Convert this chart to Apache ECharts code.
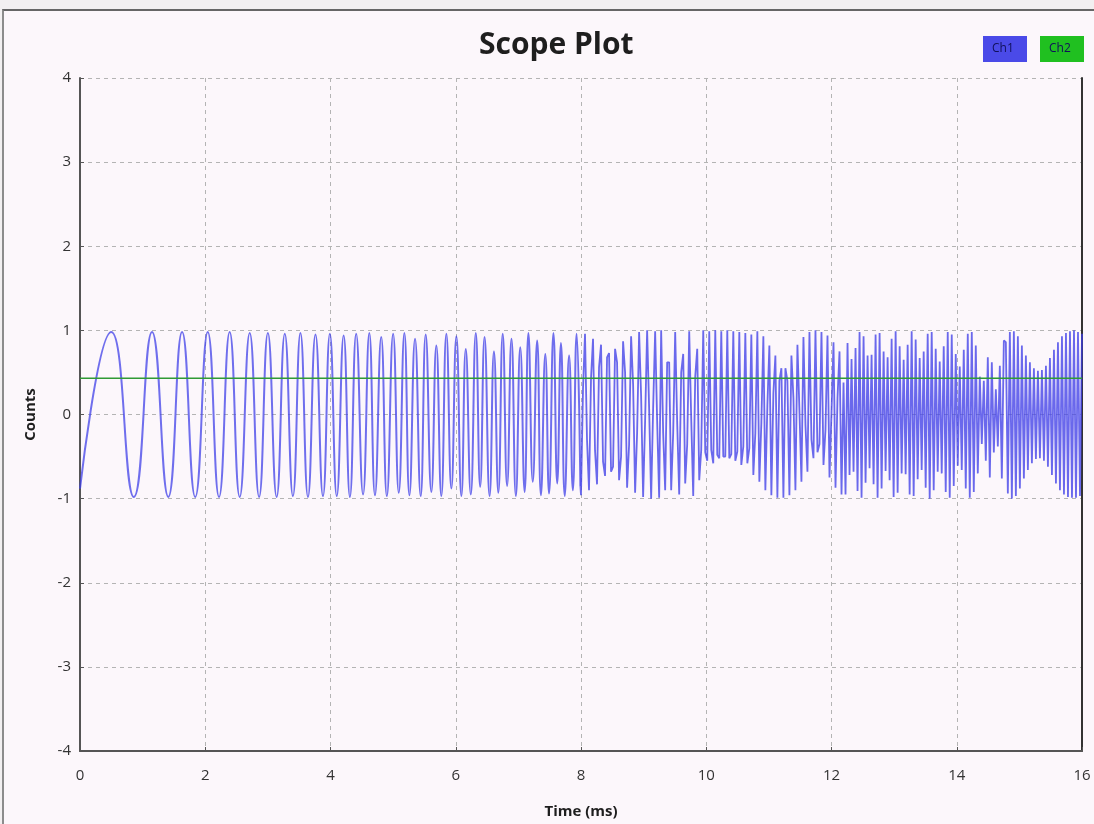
<!DOCTYPE html>
<html>
<head>
<meta charset="utf-8">
<title>Scope Plot</title>
<script src="https://cdn.jsdelivr.net/npm/echarts@6/dist/echarts.min.js"></script>
<style>
    html, body { margin: 0; padding: 0; background: #f2f0f1; }
    .frame {
        position: absolute; left: 2px; top: 9px; width: 1092px; height: 815px;
        border-top: 2px solid #666; border-left: 2px solid #8c8c8c;
        background: #fcf7fb; box-sizing: border-box;
    }
    #chart { position: absolute; left: 0; top: 0; width: 1094px; height: 824px; }
</style>
</head>
<body>
<div class="frame"></div>
<div id="chart"></div>
<script>
// 坐标范围
const xRange = [0, 16];
const yRange = [-4, 4];

// Ch1: 0-8 ms 扫频波峰/波谷 [时间 ms, 值]
const ch1Sweep = [
    [0, -0.88], [0.50, 0.98], [0.86, -0.98], [1.15, 0.98], [1.41, -0.98], [1.63, 0.98],
    [1.84, -0.98], [2.04, 0.98], [2.22, -0.98], [2.39, 0.98], [2.55, -0.98], [2.71, 0.97],
    [2.86, -0.98], [3.00, 0.97], [3.14, -0.98], [3.27, 0.96], [3.40, -0.97], [3.52, 0.97],
    [3.64, -0.98], [3.76, 0.95], [3.88, -0.97], [3.99, 0.96], [4.10, -0.97], [4.21, 0.94],
    [4.31, -0.98], [4.41, 0.96], [4.52, -0.95], [4.62, 0.97], [4.71, -0.96], [4.81, 0.92],
    [4.90, -0.97], [5.00, 0.96], [5.09, -0.93], [5.18, 0.97], [5.26, -0.96], [5.35, 0.90],
    [5.44, -0.97], [5.52, 0.95], [5.61, -0.92], [5.69, 0.82], [5.77, -0.97], [5.85, 0.96],
    [5.93, -0.88], [6.01, 0.93], [6.09, -0.97], [6.16, 0.78], [6.24, -0.95], [6.32, 0.97],
    [6.39, -0.86], [6.46, 0.92], [6.54, -0.97], [6.61, 0.75], [6.68, -0.93], [6.75, 0.96],
    [6.82, -0.85], [6.89, 0.90], [6.96, -0.97], [7.03, 0.80], [7.10, -0.92], [7.16, 0.97],
    [7.23, -0.80], [7.30, 0.88], [7.36, -0.96], [7.43, 0.72], [7.49, -0.94], [7.56, 0.97],
    [7.62, -0.82], [7.68, 0.85], [7.74, -0.97], [7.81, 0.70], [7.87, -0.90], [7.93, 0.96],
    [7.99, -0.85]
];

// Ch1: 8-16 ms 采样点（混叠区域），采样间隔 aliasStep
const aliasStart = 8.0;
const aliasStep = 0.032;
const ch1AliasValues = [
    // 8.0 - 9.25
    -0.96, 0.30, 0.96, -0.30, -0.90, 0.43, 0.90, -0.43, -0.83, 0.56,
    0.83, -0.56, -0.73, 0.68, 0.73, -0.68, -0.62, 0.78, 0.62, -0.78,
    -0.50, 0.87, 0.50, -0.87, -0.36, 0.93, 0.36, -0.93, -0.22, 0.98,
    0.22, -0.98, -0.07, 1.00, 0.07, -1.00, 0.08, 0.99, -0.08, -0.99,
    // 9.28 - 9.92
    1.00, -0.22, -0.90, 0.62, 0.62, -0.90, -0.22, 0.98, -0.10, -0.95,
    0.50, 0.72, -0.82, -0.35, 0.99, -0.05, -0.97, 0.45, 0.78, -0.78,
    -0.42,
    // 9.95 - 10.59
    1.00, -0.45, -0.55, 0.99, -0.42, -0.58, 1.00, -0.48, -0.52, 0.99,
    -0.50, -0.50, 1.00, -0.52, -0.47, 0.99, -0.55, -0.44, 0.98, -0.60,
    -0.38,
    // 10.62 - 11.2
    0.97, -0.58, -0.40, 0.95, -0.72, -0.22, 0.99, -0.80, -0.10, 0.93,
    -0.90, 0.10, 0.82, -0.96, 0.25, 0.70, -0.99, 0.40, 0.55,
    // 11.23 - 12.19
    -0.99, 0.55, 0.40, -0.96, 0.70, 0.20, -0.90, 0.83, 0.05, -0.80,
    0.92, -0.12, -0.68, 0.98, -0.30, -0.52, 1.00, -0.45, -0.35, 0.98,
    -0.60, -0.18, 0.94, -0.75, 0.02, 0.86, -0.87, 0.20, 0.75, -0.95,
    0.38,
    // 12.22 - 14.75
    -0.95, 0.85, -0.72, 0.66, -0.68, 0.79, -0.91, 0.98, -0.99, 0.93,
    -0.81, 0.70, -0.64, 0.71, -0.83, 0.95, -0.99, 0.97, -0.88, 0.75,
    -0.67, 0.68, -0.78, 0.90, -0.98, 0.99, -0.93, 0.81, -0.70, 0.65,
    -0.71, 0.83, -0.95, 0.99, -0.97, 0.89, -0.77, 0.67, -0.66, 0.75,
    -0.87, 0.96, -1.00, 0.98, -0.90, 0.78, -0.68, 0.63, -0.70, 0.81,
    -0.92, 0.98, -0.99, 0.95, -0.85, 0.72, -0.61, 0.57, -0.66, 0.77,
    -0.88, 0.96, -0.99, 0.98, -0.92, 0.82, -0.70, 0.45, -0.35, 0.40,
    -0.55, 0.68, -0.75, 0.62, -0.45, 0.30, -0.38, 0.58, -0.76, 0.88,
    // 14.78 - 16.0
    0.86, -0.94, 0.98, -1.00, 0.99, -0.97, 0.93, -0.88, 0.82, -0.76,
    0.70, -0.66, 0.62, -0.58, 0.55, -0.53, 0.52, -0.52, 0.53, -0.55,
    0.58, -0.62, 0.67, -0.72, 0.77, -0.82, 0.86, -0.90, 0.93, -0.95,
    0.97, -0.98, 0.99, -0.99, 1.00, -0.99, 0.98, -0.97, 0.96
];

// Ch2: 直流电平
const ch2Time = [0, 16];
const ch2Value = [0.43, 0.43];

const seriesNames = ['Ch1', 'Ch2'];
const seriesColors = ['#4040e8', '#2f9a35'];
const legendColors = ['#4a4ae8', '#20c020'];

const font = '"Open Sans", "DejaVu Sans", sans-serif';

const ch1Alias = [ch1Sweep[ch1Sweep.length - 1]].concat(
    ch1AliasValues.map((v, i) => [+(aliasStart + i * aliasStep).toFixed(3), v])
);

const chart = echarts.init(document.getElementById('chart'));

const gridLine = {
    show: true,
    lineStyle: { color: '#b4b4b4', type: [4, 4], width: 1 }
};

const option = {
    backgroundColor: 'transparent',
    animation: false,
    title: {
        text: 'Scope Plot',
        left: 474,
        top: 25,
        textStyle: { fontFamily: font, fontSize: 30, fontWeight: 'bold', color: '#1e1e1e' }
    },
    legend: {
        right: 5,
        top: 31,
        icon: 'none',
        itemWidth: 0,
        itemHeight: 0,
        itemGap: 8,
        selectedMode: false,
        data: seriesNames.map((name, i) => ({
            name: name,
            textStyle: {
                fontFamily: font,
                fontSize: 12,
                color: '#10105a',
                backgroundColor: legendColors[i],
                width: 26,
                height: 14,
                lineHeight: 14,
                align: 'center',
                padding: [6, 9]
            }
        }))
    },
    grid: { left: 80, right: 12, top: 78, bottom: 72, containLabel: false },
    xAxis: {
        type: 'value',
        min: xRange[0],
        max: xRange[1],
        interval: 2,
        name: 'Time (ms)',
        nameLocation: 'middle',
        nameGap: 53,
        nameTextStyle: { fontFamily: font, fontSize: 15, fontWeight: 'bold', color: '#1e1e1e' },
        axisLine: { show: true, onZero: false, lineStyle: { color: '#555', width: 2 } },
        axisTick: { show: true, inside: true, length: 4, lineStyle: { color: '#555' } },
        axisLabel: { fontFamily: font, fontSize: 15, color: '#333', margin: 17 },
        splitLine: gridLine
    },
    yAxis: [{
        type: 'value',
        min: yRange[0],
        max: yRange[1],
        interval: 1,
        name: 'Counts',
        nameLocation: 'middle',
        nameGap: 42,
        nameTextStyle: { fontFamily: font, fontSize: 15, fontWeight: 'bold', color: '#1e1e1e' },
        axisLine: { show: true, lineStyle: { color: '#555', width: 2 } },
        axisTick: { show: true, inside: true, length: 4, lineStyle: { color: '#555' } },
        axisLabel: { fontFamily: font, fontSize: 15, color: '#333', margin: 9 },
        splitLine: gridLine
    }, {
        type: 'value',
        position: 'right',
        min: yRange[0],
        max: yRange[1],
        interval: 1,
        axisLine: { show: true, lineStyle: { color: '#333', width: 2 } },
        axisTick: { show: false },
        axisLabel: { show: false },
        splitLine: { show: false }
    }],
    series: [{
        name: seriesNames[0],
        type: 'line',
        data: ch1Sweep,
        smooth: 0.5,
        showSymbol: false,
        lineStyle: { color: seriesColors[0], width: 2, opacity: 0.75 },
        itemStyle: { color: seriesColors[0] },
        z: 2
    }, {
        name: seriesNames[0],
        type: 'line',
        data: ch1Alias,
        showSymbol: false,
        lineStyle: { color: seriesColors[0], width: 1.8, opacity: 0.78 },
        itemStyle: { color: seriesColors[0] },
        z: 2
    }, {
        name: seriesNames[1],
        type: 'line',
        data: ch2Time.map((t, i) => [t, ch2Value[i]]),
        showSymbol: false,
        lineStyle: { color: seriesColors[1], width: 1.5 },
        itemStyle: { color: seriesColors[1] },
        z: 3
    }]
};

chart.setOption(option);
</script>
</body>
</html>
